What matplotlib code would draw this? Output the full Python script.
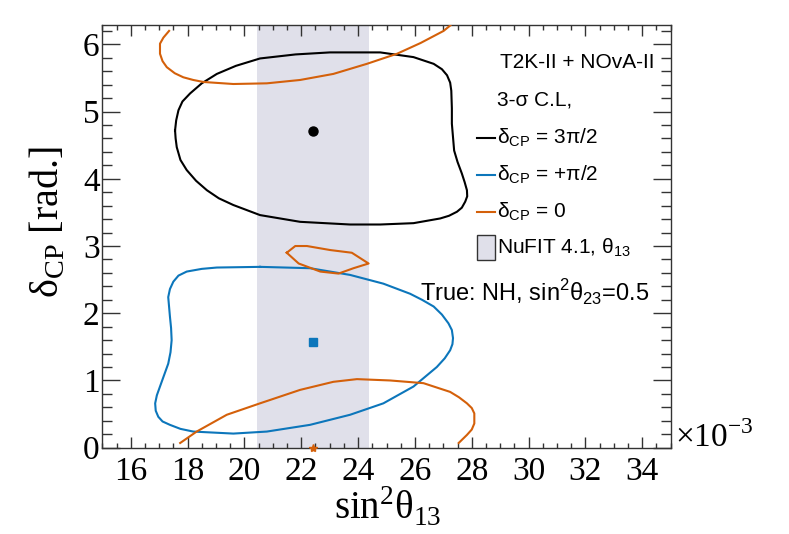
import matplotlib
matplotlib.use("Agg")
import matplotlib.pyplot as plt
from matplotlib.patches import Rectangle
from matplotlib.lines import Line2D

# ---------------- data (x in units of 1e-3) ----------------
black_x = [17.56, 17.60, 17.68, 17.82, 18.09, 18.50, 19.03, 19.70, 20.55, 21.80, 23.01, 24.78,
           25.95, 26.66, 26.95, 27.13, 27.24, 27.28, 27.30, 27.30, 27.38, 27.50, 27.65, 27.75,
           27.83, 27.84, 27.77, 27.65, 27.48, 27.20, 26.89, 25.95, 24.78, 23.72, 21.96, 20.55,
           19.61, 19.10, 18.68, 18.30, 17.97, 17.75, 17.62, 17.58, 17.56]
black_y = [4.72, 4.87, 5.02, 5.15, 5.27, 5.42, 5.56, 5.68, 5.79, 5.85, 5.88, 5.88,
           5.81, 5.71, 5.63, 5.54, 5.43, 5.31, 5.05, 4.82, 4.42, 4.25, 4.08, 3.95,
           3.83, 3.74, 3.66, 3.57, 3.51, 3.45, 3.41, 3.34, 3.32, 3.32, 3.36, 3.46,
           3.61, 3.71, 3.83, 3.97, 4.13, 4.28, 4.47, 4.60, 4.72]

blue_x = [20.55, 19.03, 18.50, 17.97, 17.68, 17.50, 17.38, 17.32, 17.38, 17.42, 17.44, 17.40,
          17.32, 17.03, 16.92, 16.86, 16.88, 16.97, 17.12, 17.38, 17.75, 18.20, 19.61, 20.79,
          22.31, 23.72, 24.89, 25.95, 26.77, 27.05, 27.24, 27.32, 27.34, 27.30, 27.18, 26.95,
          26.66, 26.25, 25.83, 24.89, 23.72, 22.31, 20.55]
blue_y = [2.69, 2.68, 2.66, 2.62, 2.56, 2.47, 2.36, 2.24, 1.95, 1.78, 1.60, 1.42,
          1.25, 0.91, 0.78, 0.66, 0.55, 0.46, 0.39, 0.34, 0.28, 0.24, 0.21, 0.24,
          0.34, 0.49, 0.66, 0.91, 1.20, 1.33, 1.45, 1.54, 1.63, 1.75, 1.85, 1.98,
          2.10, 2.20, 2.29, 2.44, 2.57, 2.67, 2.69]

orange_top_x = [17.35, 17.15, 17.03, 17.03, 17.12, 17.27, 17.55, 17.85, 18.20, 18.56, 19.61, 20.79,
                21.96, 23.13, 24.31, 25.37, 26.20, 27.01, 27.25]
orange_top_y = [6.20, 6.10, 6.01, 5.86, 5.75, 5.66, 5.57, 5.51, 5.47, 5.44, 5.41, 5.42,
                5.47, 5.56, 5.71, 5.86, 6.02, 6.20, 6.283]

orange_isl_x = [21.49, 21.79, 22.20, 23.02, 23.78, 24.37, 23.84, 23.31, 22.67, 21.91, 21.49]
orange_isl_y = [2.90, 3.00, 3.00, 2.94, 2.90, 2.74, 2.67, 2.59, 2.62, 2.74, 2.90]

orange_bot_x = [17.74, 18.32, 19.38, 20.55, 21.96, 23.13, 23.96, 25.13, 26.30, 27.24, 27.55,
                27.83, 28.00, 28.09, 28.09, 28.00, 27.83, 27.54]
orange_bot_y = [0.07, 0.24, 0.49, 0.66, 0.86, 0.98, 1.02, 1.00, 0.96, 0.83, 0.75,
                0.66, 0.59, 0.51, 0.36, 0.27, 0.19, 0.07]

true_x = 22.4
true_dcp = [4.712, 1.571, 0.0]
nufit_band = (20.46, 24.40)

xticks = [16, 18, 20, 22, 24, 26, 28, 30, 32, 34]
yticks = [0, 1, 2, 3, 4, 5, 6]

c_black = "#000000"
c_blue = "#0c76bb"
c_orange = "#d4600a"
c_band = "#e0e0ea"

# ---------------- figure ----------------
W, H = 789, 534
fig = plt.figure(figsize=(W / 100, H / 100), dpi=100)
ax = fig.add_axes([102.3 / W, 1 - 447.7 / H, (670.7 - 102.3) / W, (447.7 - 25.3) / H])

ax.axvspan(nufit_band[0], nufit_band[1], color=c_band, lw=0, zorder=0)

kw = dict(lw=1.5, zorder=3, solid_joinstyle="round")
ax.plot(black_x, black_y, color=c_black, **kw)
ax.plot(blue_x, blue_y, color=c_blue, **kw)
ax.plot(orange_top_x, orange_top_y, color=c_orange, **kw)
ax.plot(orange_isl_x, orange_isl_y, color=c_orange, **kw)
ax.plot(orange_bot_x, orange_bot_y, color=c_orange, **kw)

ax.plot([true_x], [true_dcp[0]], "o", color=c_black, ms=6.5, zorder=4)
ax.plot([true_x], [true_dcp[1]], "s", color=c_blue, ms=6, zorder=4)
ax.plot([true_x], [true_dcp[2]], "*", color=c_orange, ms=6, zorder=4, clip_on=False)

ax.set_xlim(15, 35)
ax.set_ylim(0, 6.2832)
ax.set_xticks(xticks)
ax.set_xticklabels([str(t) for t in xticks])
ax.set_yticks(yticks)
ax.set_yticklabels([str(t) for t in yticks])
ax.xaxis.set_minor_locator(matplotlib.ticker.MultipleLocator(0.5))
ax.yaxis.set_minor_locator(matplotlib.ticker.MultipleLocator(0.2))

serif = "Liberation Serif"
sans = "Liberation Sans"
for lab in ax.get_xticklabels() + ax.get_yticklabels():
    lab.set_fontfamily(serif)
    lab.set_fontsize(24)

ax.tick_params(axis="both", which="both", direction="in", top=True, right=True, color="#333333", width=1)
ax.tick_params(axis="x", which="major", length=7.7, pad=6)
ax.tick_params(axis="x", which="minor", length=3.8)
ax.tick_params(axis="y", which="major", length=13, pad=2)
ax.tick_params(axis="y", which="minor", length=7)
for s in ax.spines.values():
    s.set_color("#333333")
    s.set_linewidth(1)

def fx(px):
    return px / W

def fy(py):
    return 1 - py / H

fig.text(fx(388), fy(520), r"sin$^\mathregular{2}$θ$_\mathregular{13}$", family=serif, fontsize=28,
         ha="center", va="baseline")
fig.text(fx(48), fy(222), r"δ$_\mathregular{CP}$ [rad.]", family=serif, fontsize=29,
         ha="center", va="center", rotation=90)
fig.text(fx(675), fy(447), r"×10$^\mathregular{−3}$", family=serif, fontsize=24, ha="left", va="baseline")

# legend
lfs = 15
fig.text(fx(500), fy(62), "T2K-II + NOvA-II", family=sans, fontsize=lfs, ha="left", va="center")
fig.text(fx(497), fy(100), "3-σ C.L,", family=sans, fontsize=lfs, ha="left", va="center")
entries = [(138, c_black, "3π/2"), (175, c_blue, "+π/2"), (212, c_orange, "0")]
for yy, col, val in entries:
    fig.add_artist(Line2D([fx(477), fx(495)], [fy(yy), fy(yy)], color=col, lw=1.5))
    fig.text(fx(497), fy(yy), r"δ$_\mathregular{CP}$ = " + val, family=sans, fontsize=lfs,
             ha="left", va="center")
fig.add_artist(Rectangle((fx(477), fy(260)), fx(495) - fx(477), fy(235) - fy(260),
                         facecolor=c_band, edgecolor="#333333", lw=1, transform=fig.transFigure))
fig.text(fx(497), fy(248), r"NuFIT 4.1, θ$_\mathregular{13}$", family=sans, fontsize=lfs,
         ha="left", va="center")
fig.text(fx(420), fy(293), r"True: NH, sin$^\mathregular{2}$θ$_\mathregular{23}$=0.5", family=sans,
         fontsize=17, ha="left", va="center")

fig.savefig("out.png", dpi=100)
